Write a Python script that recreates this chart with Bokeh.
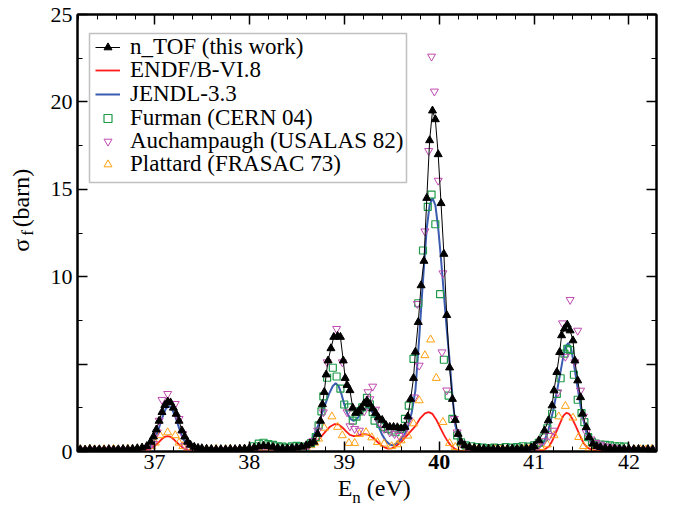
from bokeh.plotting import figure
from bokeh.models import Range1d, FixedTicker, LinearAxis, Legend, LegendItem, BoxAnnotation
from bokeh.embed import file_html
from bokeh.resources import INLINE

# ---------------- data ----------------
X_TICKS = [37, 38, 39, 40, 41, 42]
Y_TICKS = [0, 5, 10, 15, 20, 25]

NTOF_E = [36.22, 36.27, 36.32, 36.37, 36.42, 36.47, 36.52, 36.57, 36.62, 36.67, 36.72, 36.77, 36.82, 36.87,
          36.92, 36.96, 36.99, 37.02, 37.05, 37.08, 37.11, 37.14, 37.17, 37.20, 37.23, 37.26, 37.29, 37.32,
          37.35, 37.38, 37.42, 37.46, 37.50, 37.55, 37.60, 37.65, 37.70, 37.75, 37.80, 37.85, 37.90, 37.95,
          38.00, 38.05, 38.10, 38.15, 38.20, 38.25, 38.30, 38.35, 38.40, 38.45, 38.50, 38.55, 38.60, 38.64,
          38.68, 38.72, 38.75, 38.77, 38.79, 38.81, 38.83, 38.86, 38.89, 38.93, 38.96, 38.99, 39.01, 39.03,
          39.06, 39.09, 39.12, 39.15, 39.18, 39.21, 39.24, 39.27, 39.30, 39.33, 39.36, 39.40, 39.44, 39.48,
          39.52, 39.56, 39.60, 39.64, 39.67, 39.70, 39.73, 39.75, 39.78, 39.81, 39.84, 39.87, 39.90, 39.93,
          39.96, 39.99, 40.02, 40.05, 40.08, 40.11, 40.14, 40.17, 40.20, 40.23, 40.27, 40.32, 40.37, 40.42,
          40.47, 40.52, 40.57, 40.62, 40.67, 40.72, 40.77, 40.82, 40.87, 40.92, 40.97, 41.00, 41.05, 41.11,
          41.15, 41.19, 41.21, 41.24, 41.27, 41.29, 41.32, 41.35, 41.38, 41.41, 41.43, 41.46, 41.49, 41.51,
          41.55, 41.58, 41.62, 41.66, 41.70, 41.75, 41.80, 41.85, 41.90, 41.95, 42.00, 42.05, 42.10, 42.15,
          42.20, 42.25]
NTOF_S = [0.12, 0.10, 0.14, 0.11, 0.12, 0.10, 0.13, 0.11, 0.12, 0.14, 0.13, 0.15, 0.18, 0.22,
          0.30, 0.55, 0.85, 1.25, 1.75, 2.25, 2.65, 2.85, 2.80, 2.50, 2.15, 1.75, 1.20, 0.85,
          0.55, 0.38, 0.26, 0.20, 0.18, 0.15, 0.14, 0.12, 0.13, 0.12, 0.14, 0.13, 0.15, 0.16,
          0.18, 0.22, 0.28, 0.32, 0.30, 0.26, 0.20, 0.18, 0.17, 0.20, 0.22, 0.27, 0.35, 0.45,
          0.55, 1.00, 1.75, 2.70, 3.40, 4.40, 5.20, 5.90, 6.55, 6.60, 6.55, 5.20, 4.20, 3.80,
          3.50, 2.50, 2.20, 2.30, 2.50, 2.75, 2.90, 2.70, 2.45, 2.20, 1.95, 1.80, 1.50, 1.40,
          1.40, 1.38, 1.32, 1.40, 2.00, 3.00, 4.20, 5.70, 7.40, 9.50, 10.90, 14.50, 17.80, 19.50,
          19.00, 17.00, 14.20, 11.30, 7.80, 4.80, 3.00, 1.80, 1.00, 0.55, 0.35, 0.25, 0.20, 0.18,
          0.16, 0.15, 0.14, 0.15, 0.14, 0.15, 0.16, 0.15, 0.17, 0.18, 0.22, 0.30, 0.63, 1.20,
          1.77, 2.63, 3.49, 4.54, 5.68, 6.64, 7.02, 7.25, 6.92, 6.35, 5.20, 4.06, 3.10, 2.16,
          1.39, 0.82, 0.44, 0.30, 0.24, 0.20, 0.18, 0.17, 0.15, 0.15, 0.14, 0.13, 0.14, 0.12,
          0.13, 0.12]

ENDF_E = [36.20, 36.80, 36.90, 36.96, 37.00, 37.04, 37.08, 37.11, 37.14, 37.17, 37.20, 37.24, 37.28,
          37.32, 37.36, 37.42, 37.50, 38.40, 38.50, 38.58, 38.64, 38.70, 38.75, 38.80, 38.85, 38.90,
          38.94, 38.98, 39.02, 39.06, 39.10, 39.14, 39.18, 39.22, 39.26, 39.30, 39.34, 39.38, 39.42,
          39.46, 39.50, 39.55, 39.60, 39.65, 39.70, 39.75, 39.80, 39.85, 39.89, 39.93, 39.97, 40.01,
          40.05, 40.09, 40.13, 40.17, 40.22, 40.30, 41.00, 41.10, 41.16, 41.20, 41.24, 41.28, 41.31,
          41.34, 41.37, 41.40, 41.44, 41.48, 41.52, 41.56, 41.62, 41.70, 42.30]
ENDF_S = [0.02, 0.03, 0.06, 0.15, 0.30, 0.50, 0.72, 0.84, 0.88, 0.84, 0.72, 0.50, 0.30,
          0.15, 0.07, 0.03, 0.02, 0.03, 0.06, 0.12, 0.25, 0.50, 0.80, 1.12, 1.42, 1.57,
          1.55, 1.38, 1.15, 0.95, 0.88, 0.90, 0.96, 1.00, 0.95, 0.80, 0.60, 0.40, 0.25,
          0.16, 0.18, 0.33, 0.55, 0.85, 1.15, 1.45, 1.90, 2.18, 2.25, 2.15, 1.82, 1.38,
          0.95, 0.58, 0.30, 0.14, 0.05, 0.02, 0.02, 0.08, 0.30, 0.70, 1.20, 1.70, 2.05,
          2.21, 2.15, 1.90, 1.45, 0.95, 0.50, 0.22, 0.08, 0.03, 0.02]

JENDL_E = [36.20, 36.80, 36.90, 36.96, 37.00, 37.04, 37.08, 37.12, 37.15, 37.18, 37.22, 37.26, 37.30,
           37.35, 37.40, 37.48, 38.40, 38.50, 38.58, 38.65, 38.72, 38.78, 38.84, 38.88, 38.91, 38.94,
           38.97, 39.00, 39.03, 39.07, 39.10, 39.14, 39.18, 39.22, 39.25, 39.28, 39.32, 39.36, 39.40,
           39.44, 39.48, 39.51, 39.55, 39.59, 39.63, 39.67, 39.71, 39.75, 39.79, 39.83, 39.87, 39.90,
           39.93, 39.96, 39.99, 40.02, 40.05, 40.08, 40.11, 40.14, 40.17, 40.21, 40.26, 40.32, 40.40,
           41.00, 41.05, 41.10, 41.15, 41.20, 41.25, 41.30, 41.33, 41.36, 41.39, 41.42, 41.46, 41.50,
           41.55, 41.60, 41.66, 41.75, 42.30]
JENDL_S = [0.02, 0.04, 0.10, 0.30, 0.65, 1.20, 1.90, 2.45, 2.60, 2.50, 2.00, 1.35, 0.75,
           0.32, 0.13, 0.05, 0.04, 0.10, 0.25, 0.60, 1.40, 2.40, 3.30, 3.75, 3.90, 3.75,
           3.30, 2.70, 2.20, 1.85, 1.75, 1.90, 2.20, 2.45, 2.52, 2.40, 2.00, 1.45, 0.95,
           0.60, 0.40, 0.35, 0.45, 0.65, 0.90, 1.40, 2.20, 3.50, 6.50, 9.80, 12.80, 14.10,
           14.50, 14.10, 12.80, 11.00, 9.00, 7.00, 5.20, 3.20, 1.50, 0.70, 0.22, 0.08, 0.04,
           0.05, 0.20, 0.50, 1.20, 2.30, 3.70, 5.20, 6.00, 6.20, 5.90, 5.00, 3.60, 2.30,
           1.10, 0.50, 0.20, 0.07, 0.03]

FUR_E = [38.05, 38.10, 38.15, 38.20, 38.25, 38.30, 38.35, 38.40, 38.45, 38.50, 38.55, 38.59, 38.65,
         38.70, 38.73, 38.76, 38.78, 38.82, 38.88, 38.92, 38.96, 39.00, 39.05, 39.09, 39.13, 39.16,
         39.19, 39.24, 39.27, 39.30, 39.32, 39.38, 39.42, 39.46, 39.50, 39.54, 39.59, 39.64, 39.68,
         39.73, 39.78, 39.83, 39.88, 39.92, 39.96, 40.01, 40.05, 40.10, 40.14, 40.19, 40.23, 40.28,
         40.34, 40.40, 40.46, 40.52, 40.58, 40.64, 40.70, 40.76, 40.82, 40.88, 40.94, 41.00, 41.05,
         41.10, 41.14, 41.19, 41.24, 41.28, 41.32, 41.35, 41.38, 41.42, 41.46, 41.50, 41.53, 41.57,
         41.61, 41.65, 41.70, 41.75, 41.80, 41.85, 41.90, 41.95]
FUR_S = [0.30, 0.45, 0.50, 0.42, 0.38, 0.30, 0.28, 0.22, 0.30, 0.32, 0.28, 0.25, 0.48,
         0.82, 1.49, 2.30, 3.15, 4.22, 4.79, 4.29, 3.60, 2.69, 2.53, 1.77, 2.00, 2.30,
         2.53, 3.07, 2.70, 2.25, 1.77, 1.58, 1.40, 1.30, 1.20, 1.10, 1.30, 1.87, 2.63,
         5.30, 8.48, 11.50, 14.00, 14.70, 13.00, 9.00, 5.25, 3.20, 1.87, 0.92, 0.53, 0.35,
         0.30, 0.25, 0.22, 0.20, 0.22, 0.20, 0.25, 0.22, 0.25, 0.30, 0.28, 0.35, 0.50,
         0.80, 1.33, 2.16, 3.30, 4.19, 5.60, 5.87, 5.80, 4.39, 2.96, 2.20, 1.68, 0.82,
         0.55, 0.45, 0.40, 0.38, 0.35, 0.30, 0.30, 0.28]

AUC_E = [36.21, 36.26, 36.31, 36.36, 36.41, 36.46, 36.51, 36.56, 36.61, 36.66, 36.71, 36.76, 36.81,
         36.86, 36.91, 36.95, 36.99, 37.03, 37.05, 37.08, 37.14, 37.22, 37.26, 37.30, 37.32, 37.37,
         37.42, 37.47, 37.52, 37.57, 37.62, 37.67, 37.72, 37.77, 37.82, 37.87, 37.92, 37.97, 38.02,
         38.07, 38.12, 38.17, 38.22, 38.27, 38.32, 38.37, 38.42, 38.47, 38.52, 38.57, 38.62, 38.67,
         38.72, 38.78, 38.82, 38.92, 38.98, 39.03, 39.06, 39.11, 39.16, 39.21, 39.25, 39.27, 39.30,
         39.33, 39.37, 39.42, 39.48, 39.53, 39.58, 39.63, 39.68, 39.74, 39.77, 39.79, 39.85, 39.89,
         39.92, 39.95, 39.99, 40.03, 40.04, 40.08, 40.16, 40.19, 40.24, 40.29, 40.34, 40.39, 40.44,
         40.49, 40.54, 40.59, 40.64, 40.69, 40.74, 40.79, 40.84, 40.89, 40.94, 40.99, 41.04, 41.10,
         41.16, 41.20, 41.25, 41.30, 41.33, 41.38, 41.43, 41.46, 41.49, 41.52, 41.55, 41.60, 41.65,
         41.70, 41.75, 41.80, 41.85, 41.90, 41.95, 42.00, 42.05, 42.10, 42.15, 42.20, 42.25]
AUC_S = [0.08, 0.05, 0.10, 0.06, 0.09, 0.04, 0.10, 0.07, 0.05, 0.09, 0.06, 0.10, 0.08,
         0.12, 0.18, 0.30, 0.44, 1.10, 1.77, 2.96, 3.30, 2.73, 1.87, 1.00, 0.34, 0.20,
         0.12, 0.08, 0.10, 0.06, 0.09, 0.05, 0.08, 0.10, 0.06, 0.09, 0.07, 0.10, 0.12,
         0.15, 0.20, 0.25, 0.20, 0.18, 0.15, 0.12, 0.15, 0.18, 0.20, 0.25, 0.35, 0.60,
         1.20, 2.25, 5.11, 7.02, 5.11, 2.25, 1.45, 1.30, 1.20, 2.30, 3.40, 3.00, 3.72,
         2.40, 1.68, 1.30, 1.10, 1.00, 0.90, 1.10, 1.80, 3.10, 8.45, 4.92, 12.60, 17.20,
         22.60, 20.60, 15.50, 5.68, 10.20, 3.50, 1.87, 1.10, 0.45, 0.25, 0.15, 0.10, 0.08,
         0.10, 0.06, 0.08, 0.10, 0.07, 0.09, 0.06, 0.10, 0.08, 0.12, 0.15, 0.30, 0.60,
         0.90, 1.20, 3.39, 7.34, 5.43, 8.68, 5.11, 6.92, 3.49, 2.00, 1.10, 0.70, 0.50,
         0.40, 0.30, 0.25, 0.20, 0.15, 0.12, 0.10, 0.08, 0.10, 0.06, 0.09, 0.07]

PLA_E = [36.22, 36.27, 36.32, 36.37, 36.42, 36.47, 36.52, 36.57, 36.62, 36.67, 36.72, 36.77, 36.82,
         36.87, 36.92, 36.97, 37.01, 37.06, 37.14, 37.22, 37.26, 37.30, 37.35, 37.40, 37.45, 37.50,
         37.55, 37.60, 37.65, 37.70, 37.75, 37.80, 37.85, 37.90, 37.95, 38.00, 38.05, 38.10, 38.15,
         38.20, 38.25, 38.30, 38.35, 38.40, 38.45, 38.50, 38.55, 38.60, 38.65, 38.69, 38.73, 38.79,
         38.87, 38.93, 38.98, 39.05, 39.11, 39.16, 39.23, 39.29, 39.35, 39.42, 39.50, 39.56, 39.60,
         39.67, 39.73, 39.79, 39.85, 39.91, 39.97, 40.04, 40.11, 40.17, 40.23, 40.29, 40.35, 40.41,
         40.47, 40.53, 40.59, 40.65, 40.71, 40.77, 40.83, 40.89, 40.95, 41.01, 41.07, 41.14, 41.21,
         41.26, 41.33, 41.41, 41.47, 41.52, 41.58, 41.64, 41.70, 41.76, 41.82, 41.88, 41.94, 42.00,
         42.06, 42.12, 42.18, 42.24]
PLA_S = [0.12, 0.10, 0.14, 0.12, 0.10, 0.13, 0.11, 0.14, 0.10, 0.12, 0.15, 0.11, 0.13,
         0.15, 0.20, 0.30, 0.50, 0.92, 1.09, 0.92, 0.50, 0.30, 0.20, 0.14, 0.12, 0.10,
         0.13, 0.11, 0.14, 0.10, 0.12, 0.13, 0.10, 0.12, 0.14, 0.11, 0.13, 0.15, 0.20,
         0.18, 0.15, 0.12, 0.14, 0.11, 0.13, 0.12, 0.15, 0.20, 0.35, 0.50, 0.73, 1.35,
         2.00, 1.40, 0.92, 0.48, 0.48, 1.00, 1.10, 0.80, 0.53, 0.44, 0.30, 0.40, 0.63,
         0.90, 1.60, 2.92, 5.50, 6.40, 4.20, 1.68, 0.48, 0.25, 0.15, 0.12, 0.10, 0.13,
         0.11, 0.10, 0.14, 0.12, 0.10, 0.13, 0.11, 0.12, 0.14, 0.15, 0.25, 0.40, 0.92,
         2.00, 2.60, 1.93, 0.82, 0.30, 0.18, 0.14, 0.12, 0.13, 0.10, 0.12, 0.11, 0.13,
         0.10, 0.12, 0.11, 0.13]

LABELS = ["n_TOF (this work)", "ENDF/B-VI.8", "JENDL-3.3", "Furman (CERN 04)",
          "Auchampaugh (USALAS 82)", "Plattard (FRASAC 73)"]

# axis-title pieces: text keyed by where each piece sits along its axis
X_TITLE = {39.01: "E", 39.47: "(eV)"}
X_TITLE_SUB = {39.13: "n"}
Y_TITLE = {11.8: "σ", 14.5: "(barn)"}
Y_TITLE_SUB = "f"

# ---------------- styling ----------------
FONT = "Liberation Serif"
C_RED = "#ff1a1a"
C_BLUE = "#3a5bb0"
C_GREEN = "#1f9a4a"
C_MAG = "#c04ab0"
C_ORG = "#ffa010"

X0, X1 = 36.19, 42.29
Y0, Y1 = 0.0, 25.0
W, H = 678, 510
FL, FR, FT, FB = 77, 656, 14, 451

p = figure(width=W, height=H, output_backend="svg", toolbar_location=None,
           x_range=Range1d(X0, X1), y_range=Range1d(Y0, Y1),
           min_border_left=FL, min_border_right=W - FR, min_border_top=FT, min_border_bottom=H - FB)
p.background_fill_color = "white"
p.border_fill_color = "white"
p.outline_line_color = "black"
p.outline_line_width = 2
p.xgrid.visible = False
p.ygrid.visible = False

x_minor = [round(36.2 + 0.2 * i, 2) for i in range(31)]
y_minor = [2.5 * i for i in range(11)]


def style_axis(ax, ticker, show_labels):
    ax.ticker = ticker
    ax.axis_line_color = "black"
    ax.axis_line_width = 2
    ax.major_tick_in = 10
    ax.major_tick_out = 0
    ax.minor_tick_in = 5
    ax.minor_tick_out = 0
    ax.major_tick_line_width = 1.5
    ax.minor_tick_line_width = 1
    ax.major_tick_line_color = "black"
    ax.minor_tick_line_color = "black"
    ax.major_label_text_font = FONT
    if show_labels:
        ax.major_label_text_font_size = "22px"
        ax.major_label_text_color = "black"
    else:
        ax.major_label_text_font_size = "0px"
        ax.major_label_text_color = None
        ax.major_label_text_alpha = 0
        ax.major_label_standoff = 0


def text_axis(ax, labels, size, standoff, style="normal"):
    ax.ticker = FixedTicker(ticks=list(labels.keys()), minor_ticks=[])
    ax.major_label_overrides = labels
    ax.axis_line_color = None
    ax.major_tick_line_color = None
    ax.minor_tick_line_color = None
    ax.major_tick_in = 0
    ax.major_tick_out = 0
    ax.minor_tick_in = 0
    ax.minor_tick_out = 0
    ax.major_label_text_font = FONT
    ax.major_label_text_font_size = size
    ax.major_label_text_font_style = style
    ax.major_label_text_color = "black"
    ax.major_label_standoff = standoff


xt = FixedTicker(ticks=X_TICKS, minor_ticks=x_minor)
yt = FixedTicker(ticks=Y_TICKS, minor_ticks=y_minor)
style_axis(p.xaxis[0], xt, True)
style_axis(p.yaxis[0], yt, True)
p.xaxis[0].major_label_standoff = 3
p.yaxis[0].major_label_standoff = 5
p.xaxis[0].major_label_overrides = {40: ""}
p.yaxis[0].major_label_overrides = {5: ""}

# bold "40", pulled up onto the tick-label row
ax40 = LinearAxis()
text_axis(ax40, {40: "40"}, "22px", -17, "bold")
p.add_layout(ax40, "below")

# x title  E_n (eV): subscript row first, main row pulled back up over it
xsub = LinearAxis()
text_axis(xsub, X_TITLE_SUB, "17px", 16)
p.add_layout(xsub, "below")
xtitle = LinearAxis()
text_axis(xtitle, X_TITLE, "24px", -35)
p.add_layout(xtitle, "below")

# y title  sigma_f (barn)  (the subscript is the axis label, centred on the frame)
ytitle = LinearAxis()
text_axis(ytitle, Y_TITLE, "24px", 13)
ytitle.major_label_orientation = "vertical"
ytitle.axis_label = Y_TITLE_SUB
ytitle.axis_label_text_font = FONT
ytitle.axis_label_text_font_style = "normal"
ytitle.axis_label_text_font_size = "17px"
ytitle.axis_label_text_color = "black"
ytitle.axis_label_standoff = -31
p.add_layout(ytitle, "left")

top = LinearAxis()
style_axis(top, FixedTicker(ticks=X_TICKS, minor_ticks=x_minor), False)
p.add_layout(top, "above")
right = LinearAxis()
style_axis(right, FixedTicker(ticks=Y_TICKS, minor_ticks=y_minor), False)
p.add_layout(right, "right")

# ---------------- glyphs ----------------
r_blue = p.line(JENDL_E, JENDL_S, line_color=C_BLUE, line_width=2)
r_red = p.line(ENDF_E, ENDF_S, line_color=C_RED, line_width=1.8)
r_org = p.scatter(PLA_E, PLA_S, marker="triangle", size=8, fill_color=None,
                  line_color=C_ORG, line_width=1)
r_grn = p.scatter(FUR_E, FUR_S, marker="square", size=7, fill_color=None,
                  line_color=C_GREEN, line_width=1.2)
r_mag = p.scatter(AUC_E, AUC_S, marker="inverted_triangle", size=8, fill_color=None,
                  line_color=C_MAG, line_width=1)
r_blk_l = p.line(NTOF_E, NTOF_S, line_color="black", line_width=1)
r_blk_m = p.scatter(NTOF_E, NTOF_S, marker="triangle", size=8, fill_color="black",
                    line_color="black")

# ---------------- legend: one frame, one row per entry ----------------
def dx(px):
    return X0 + (px - FL) * (X1 - X0) / (FR - FL)


def dy(py):
    return Y0 + (FB - py) * (Y1 - Y0) / (FB - FT)


p.add_layout(BoxAnnotation(left=dx(89), right=dx(406), top=dy(33), bottom=dy(182),
                           fill_color="white", fill_alpha=1.0,
                           line_color="#333333", line_width=1.5))

row_renderers = [[r_blk_l, r_blk_m], [r_red], [r_blue], [r_grn], [r_mag], [r_org]]
ROW_H = 27
for i, (lab, rends) in enumerate(zip(LABELS, row_renderers)):
    centre = 46.5 + 23.5 * i
    lg = Legend(items=[LegendItem(label=lab, renderers=rends)],
                location=(18, round(FB - centre - ROW_H / 2)))
    lg.label_text_font = FONT
    lg.label_text_font_size = "23px"
    lg.label_text_color = "black"
    lg.label_standoff = 10
    lg.glyph_width = 25
    lg.glyph_height = 20
    lg.label_height = 20
    lg.spacing = 0
    lg.padding = 0
    lg.margin = 0
    lg.border_line_color = None
    lg.background_fill_alpha = 0
    p.add_layout(lg, "center")

open("out.html", "w").write(file_html(p, INLINE))
